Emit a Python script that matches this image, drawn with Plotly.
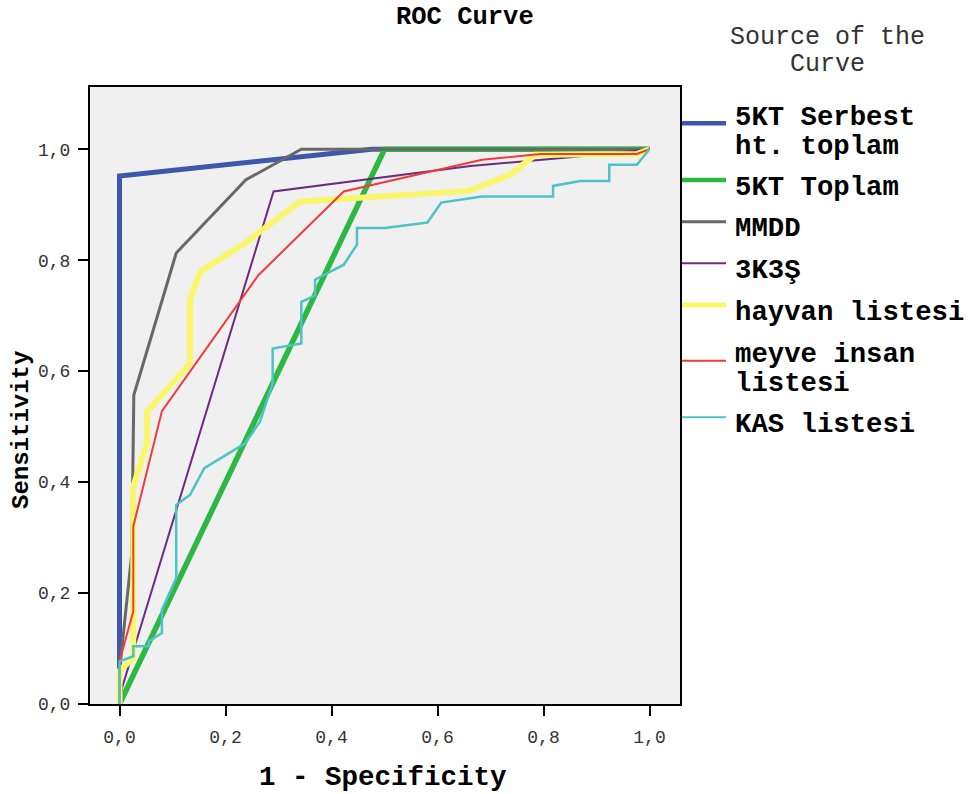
import plotly.graph_objects as go

# ---------------- data ----------------
names = ["5KT Serbest ht. toplam", "5KT Toplam", "MMDD", "3K3Ş",
         "hayvan listesi", "meyve insan listesi", "KAS listesi"]

serbest_x = [0, 0, 0.476, 1]
serbest_y = [0, 0.952, 1.0, 1]

toplam_x = [0, 0.5, 1]
toplam_y = [0, 1.0, 1]

mmdd_x = [0, 0, 0.023, 0.027, 0.107, 0.2385, 0.343, 1]
mmdd_y = [0, 0.06, 0.27, 0.557, 0.813, 0.945, 1.0, 1]

k3s_x = [0, 0.005, 0.2906, 0.662, 0.856, 0.976, 1]
k3s_y = [0, 0.03, 0.924, 0.970, 0.986, 0.997, 1]

hayvan_x = [0, 0, 0.026, 0.026, 0.052, 0.052, 0.133, 0.133, 0.146, 0.155,
            0.237, 0.341, 0.659, 0.737, 0.784, 0.976, 1]
hayvan_y = [0, 0.06, 0.083, 0.392, 0.47, 0.527, 0.614, 0.728, 0.765, 0.781,
            0.831, 0.906, 0.925, 0.954, 0.99, 0.9915, 1]

meyve_x = [0, 0, 0.026, 0.026, 0.08, 0.262, 0.423, 0.684, 0.794, 0.976, 1]
meyve_y = [0, 0.077, 0.167, 0.32, 0.528, 0.773, 0.924, 0.981, 0.9915, 0.9915, 1]

kas_x = [0, 0, 0.026, 0.026, 0.055, 0.055, 0.08, 0.08, 0.107, 0.107, 0.133,
         0.16, 0.237, 0.265, 0.289, 0.289, 0.343, 0.343, 0.369, 0.369, 0.423,
         0.448, 0.448, 0.501, 0.581, 0.607, 0.684, 0.818, 0.818, 0.869, 0.924,
         0.924, 0.976, 1]
kas_y = [0, 0.077, 0.086, 0.104, 0.104, 0.113, 0.128, 0.17, 0.227, 0.359, 0.377,
         0.425, 0.47, 0.509, 0.578, 0.641, 0.65, 0.725, 0.736, 0.765, 0.792,
         0.828, 0.858, 0.858, 0.868, 0.904, 0.915, 0.915, 0.934, 0.943, 0.943,
         0.972, 0.972, 1]

x_tickvals = [0, 0.2, 0.4, 0.6, 0.8, 1.0]
x_ticktext = ["0,0", "0,2", "0,4", "0,6", "0,8", "1,0"]
y_tickvals = [0, 0.2, 0.4, 0.6, 0.8, 1.0]
y_ticktext = ["0,0", "0,2", "0,4", "0,6", "0,8", "1,0"]

# ---------------- styles ----------------
colors = ["#3D58AB", "#2DB843", "#686868", "#6C2A80", "#FAF76C", "#F23A3A", "#4DC3C6"]
widths = [5, 5.5, 3, 2, 6, 2, 2.5]
legend_widths = [4.5, 4.5, 3, 2, 5, 2, 2]
FONT = "Liberation Mono"

xs = [serbest_x, toplam_x, mmdd_x, k3s_x, hayvan_x, meyve_x, kas_x]
ys = [serbest_y, toplam_y, mmdd_y, k3s_y, hayvan_y, meyve_y, kas_y]

fig = go.Figure()
for name, x, y, c, w in zip(names, xs, ys, colors, widths):
    fig.add_trace(go.Scatter(x=x, y=y, mode="lines", name=name,
                             line=dict(color=c, width=w), showlegend=False))

# pixel -> paper helpers (layout positions)
W, H = 974, 794
L, R, T, B = 90, 680, 87, 704
def xp(px):
    return (px - L) / (R - L)
def yp(py):
    return (B - py) / (B - T)

annotations = []
shapes = []

# title and axis titles
annotations.append(dict(text="<b>ROC Curve</b>", x=xp(464.5), y=yp(17), xref="paper", yref="paper",
                        xanchor="center", yanchor="middle", showarrow=False,
                        font=dict(family=FONT, size=25.5, color="#000")))
annotations.append(dict(text="<b>1 - Specificity</b>", x=xp(382.5), y=yp(777), xref="paper", yref="paper",
                        xanchor="center", yanchor="middle", showarrow=False,
                        font=dict(family=FONT, size=27.5, color="#000")))
annotations.append(dict(text="<b>Sensitivity</b>", x=xp(21), y=yp(430), xref="paper", yref="paper",
                        xanchor="center", yanchor="middle", showarrow=False, textangle=-90,
                        font=dict(family=FONT, size=24, color="#000")))

# legend title
for txt, py in [("Source of the", 38), ("Curve", 64)]:
    annotations.append(dict(text=txt, x=xp(827.5), y=yp(py), xref="paper", yref="paper",
                            xanchor="center", yanchor="middle", showarrow=False,
                            font=dict(family=FONT, size=25, color="#333")))

# manual legend
legend_lines = [["5KT Serbest", "ht. toplam"], ["5KT Toplam"], ["MMDD"], ["3K3Ş"],
                ["hayvan listesi"], ["meyve insan", "listesi"], ["KAS listesi"]]
sym_y = [123.3, 180, 221.7, 263.3, 305, 360.7, 417.3]
txt_y = [[117, 146], [187.3], [228.3], [270], [312.3], [354.3, 383.3], [424]]
for lines, sy, tys, c, lw in zip(legend_lines, sym_y, txt_y, colors, legend_widths):
    shapes.append(dict(type="line", xref="paper", yref="paper",
                       x0=xp(682), x1=xp(726), y0=yp(sy), y1=yp(sy),
                       line=dict(color=c, width=lw)))
    for t, ty in zip(lines, tys):
        annotations.append(dict(text="<b>%s</b>" % t, x=xp(733), y=yp(ty), xref="paper", yref="paper",
                                xanchor="left", yanchor="middle", showarrow=False,
                                font=dict(family=FONT, size=27.3, color="#000")))

axis_common = dict(showgrid=False, zeroline=False, showline=True, linewidth=2, linecolor="#000",
                   mirror=True, ticks="outside", ticklen=10, tickwidth=2, tickcolor="#000",
                   tickfont=dict(family=FONT, size=18, color="#333"))

fig.update_layout(
    width=W, height=H, autosize=False,
    margin=dict(l=L, r=W - R, t=T, b=H - B, pad=0),
    paper_bgcolor="#FFFFFF", plot_bgcolor="#F0F0F0",
    xaxis=dict(range=[-0.0557, 1.0575], tickmode="array", tickvals=x_tickvals,
               ticktext=x_ticktext, ticklabelstandoff=5, **axis_common),
    yaxis=dict(range=[0, 1.1123], tickmode="array", tickvals=y_tickvals,
               ticktext=y_ticktext, ticklabelstandoff=4, **axis_common),
    annotations=annotations, shapes=shapes, showlegend=False,
)

fig.write_html("out.html")
